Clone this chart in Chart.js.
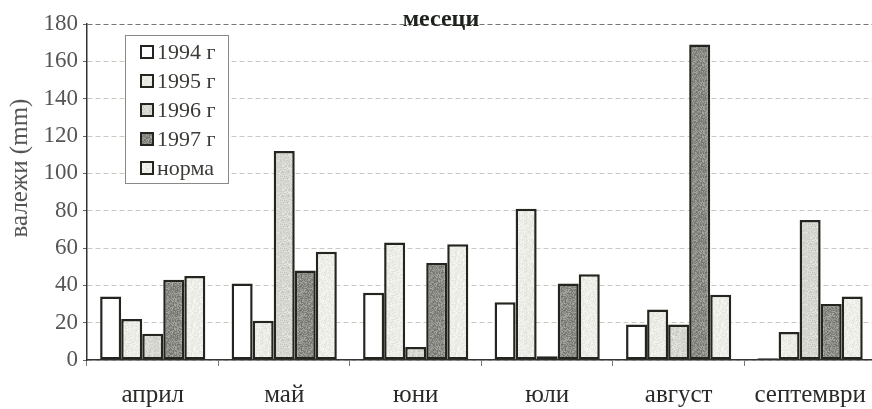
<!DOCTYPE html>
<html>
<head>
<meta charset="utf-8">
<script src="https://cdn.jsdelivr.net/npm/chart.js@4/dist/chart.umd.min.js"></script>
<style>
  html, body { margin: 0; padding: 0; background: #ffffff; overflow: hidden; }
  #wrap { position: relative; width: 880px; height: 409px; }
</style>
</head>
<body>
<div id="wrap"><canvas id="c" width="880" height="409"></canvas></div>
<script>
// Monthly precipitation (mm), April–September
const months = ['април', 'май', 'юни', 'юли', 'август', 'септември'];
const seriesNames = ['1994 г', '1995 г', '1996 г', '1997 г', 'норма'];
const rain1994 = [34, 41, 36, 31, 19, 1];
const rain1995 = [22, 21, 63, 81, 27, 15];
const rain1996 = [14, 112, 7, 2, 19, 75];
const rain1997 = [43, 48, 52, 41, 169, 30];
const rainNorm = [45, 58, 62, 46, 35, 34];
const yMin = 0, yMax = 180, yStep = 20;

const SERIF = '"Liberation Serif", "Times New Roman", serif';

// Grainy grey fill, generated from a fixed integer hash
function speckle(base, spread, seed) {
  const n = 24;
  const cv = document.createElement('canvas');
  cv.width = n; cv.height = n;
  const g = cv.getContext('2d');
  const img = g.createImageData(n, n);
  for (let y = 0; y < n; y++) {
    for (let x = 0; x < n; x++) {
      let h = (Math.imul(x + 1, 374761393) + Math.imul(y + 7, 668265263) + Math.imul(seed, 1442695041)) >>> 0;
      h = Math.imul(h ^ (h >>> 13), 1274126177) >>> 0;
      h = (h ^ (h >>> 16)) >>> 0;
      const t = (h & 255) / 255 - 0.5;
      const v = Math.max(0, Math.min(255, base + spread * t));
      const i = (y * n + x) * 4;
      img.data[i] = v; img.data[i + 1] = v; img.data[i + 2] = v - 5; img.data[i + 3] = 255;
    }
  }
  g.putImageData(img, 0, 0);
  return g.createPattern(cv, 'repeat');
}

const fills = [
  '#ffffff',
  speckle(236, 24, 3),
  speckle(214, 36, 5),
  speckle(140, 60, 11),
  speckle(238, 22, 17)
];
const seriesData = [rain1994, rain1995, rain1996, rain1997, rainNorm];
const EDGE = '#22261f';

const datasets = seriesNames.map((name, i) => ({
  label: name,
  data: seriesData[i],
  backgroundColor: fills[i],
  borderColor: EDGE,
  borderWidth: 2.5,
  borderSkipped: false,
  categoryPercentage: 0.8,
  barPercentage: 1.0
}));

// Heading, rotated axis caption and boxed legend
const decorations = {
  id: 'decorations',
  afterDatasetsDraw(chart) {
    const ctx = chart.ctx;
    ctx.save();
    // heading sitting on the top rule
    ctx.fillStyle = '#1e221c';
    ctx.font = 'bold 24px ' + SERIF;
    ctx.textAlign = 'center';
    ctx.textBaseline = 'alphabetic';
    ctx.fillText('месеци', 441, 26);

    // y caption
    ctx.save();
    ctx.translate(20, 168);
    ctx.rotate(-Math.PI / 2);
    ctx.fillStyle = '#555';
    ctx.font = '25px ' + SERIF;
    ctx.textAlign = 'center';
    ctx.textBaseline = 'middle';
    ctx.fillText('валежи (mm)', 0, 0);
    ctx.restore();

    // legend
    const bx = 125, by = 35, bw = 103, bh = 148;
    ctx.fillStyle = '#ffffff';
    ctx.fillRect(bx, by, bw, bh);
    ctx.strokeStyle = '#8a8a84';
    ctx.lineWidth = 1;
    ctx.strokeRect(bx + 0.5, by + 0.5, bw, bh);
    ctx.font = '22px ' + SERIF;
    ctx.textAlign = 'left';
    ctx.textBaseline = 'middle';
    chart.data.datasets.forEach((ds, i) => {
      const cy = 52 + i * 29;
      ctx.fillStyle = ds.backgroundColor;
      ctx.fillRect(141, cy - 6, 12, 12);
      ctx.strokeStyle = EDGE;
      ctx.lineWidth = 2;
      ctx.strokeRect(141, cy - 6, 12, 12);
      ctx.fillStyle = '#3a3a36';
      ctx.fillText(ds.label, 157, cy + 1);
    });
    ctx.restore();
  }
};

new Chart(document.getElementById('c'), {
  type: 'bar',
  data: { labels: months, datasets },
  plugins: [decorations],
  options: {
    responsive: false,
    animation: false,
    devicePixelRatio: 1,
    layout: { padding: { top: 24, right: 2, left: 0, bottom: 0 } },
    plugins: { legend: { display: false }, tooltip: { enabled: false }, title: { display: false } },
    scales: {
      x: {
        offset: true,
        grid: { display: true, offset: true, drawOnChartArea: false, drawTicks: true, tickLength: 6, color: '#777' },
        border: { display: true, color: '#333', width: 1.5 },
        ticks: { font: { family: SERIF, size: 25 }, color: '#2a2a28', padding: 14, maxRotation: 0, autoSkip: false },
        afterFit(s) { s.height = 49; }
      },
      y: {
        min: yMin, max: yMax,
        ticks: { stepSize: yStep, font: { family: SERIF, size: 23 }, color: '#555', padding: 5 },
        grid: {
          color: c => (c.tick && c.tick.value === yMax) ? '#77776f' : '#cacac2',
          lineWidth: 1, tickLength: 4, tickColor: '#666', tickBorderDash: []
        },
        border: { display: true, color: '#333', width: 1.5, dash: [5, 3] },
        afterFit(s) { s.width = 87; }
      }
    }
  }
});
</script>
</body>
</html>
